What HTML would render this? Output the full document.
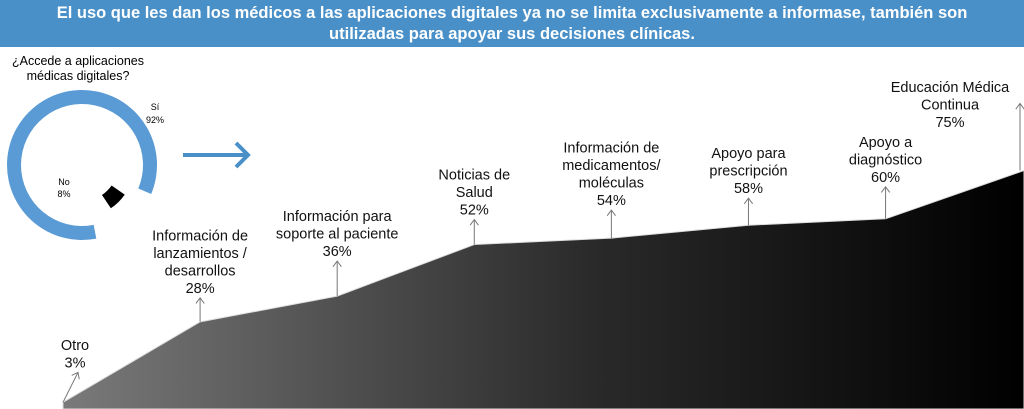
<!DOCTYPE html>
<html><head><meta charset="utf-8">
<style>
body{margin:0;width:1024px;height:409px;overflow:hidden;background:#fff;font-family:"Liberation Sans",sans-serif;}
#title{position:absolute;left:0;top:0;width:1024px;height:47px;background:#4a90c8;color:#fff;font-weight:bold;font-size:16.5px;text-align:center;line-height:21px;padding-top:3px;box-sizing:border-box;}
svg{position:absolute;left:0;top:0;}
</style></head><body>
<div id="title">El uso que les dan los médicos a las aplicaciones digitales ya no se limita exclusivamente a informase, también son<br>utilizadas para apoyar sus decisiones clínicas.</div>
<svg id="chart" width="1024" height="409">
<defs><linearGradient id="g" x1="0" x2="1" y1="0" y2="0"><stop offset="0" stop-color="#7a7a7a"/><stop offset="0.55" stop-color="#2a2a2a"/><stop offset="1" stop-color="#000"/></linearGradient></defs>
<text x="78" y="65" font-size="12.5" text-anchor="middle">¿Accede a aplicaciones</text>
<text x="78" y="80" font-size="12.5" text-anchor="middle">médicas digitales?</text>
<g id="donut"></g>
<line x1="183" y1="155" x2="247" y2="155" stroke="#4a90c8" stroke-width="4"/>
<polyline points="236,143 248,155 236,167" fill="none" stroke="#4a90c8" stroke-width="4"/>
<g id="area"></g>
</svg>
<script>
const donutLabels=["Sí","No"];
const donutValues=[92,8];
const categories=["Otro","Información de|lanzamientos /|desarrollos","Información para|soporte al paciente","Noticias de|Salud","Información de|medicamentos/|moléculas","Apoyo para|prescripción","Apoyo a|diagnóstico","Educación Médica|Continua"];
const values=[3,28,36,52,54,58,60,75];
const valueLabels=["3%","28%","36%","52%","54%","58%","60%","75%"];

const NS="http://www.w3.org/2000/svg";
function mk(t,a,p){const e=document.createElementNS(NS,t);for(const k in a)e.setAttribute(k,a[k]);p.appendChild(e);return e;}
// donut
const dg=document.getElementById('donut');
const cx=82,cy=165,ro=75,ri=61;
const start=169, span=360-10; // degrees from top clockwise
function pt(r,a){const rad=(a-90)*Math.PI/180;return [cx+r*Math.cos(rad),cy+r*Math.sin(rad)];}
const tot=donutValues.reduce((a,b)=>a+b,0);
const a0=start, a1=start+donutValues[0]/tot*360*0.917;
{const p1=pt(ro,a0),p2=pt(ro,a1),p3=pt(ri,a1),p4=pt(ri,a0);
const large=(a1-a0)>180?1:0;
const s=mk('path',{d:`M${p1}A${ro},${ro} 0 ${large} 1 ${p2}L${p3}A${ri},${ri} 0 ${large} 0 ${p4}Z`,fill:'#5a9bd5'},dg);

}
{const b0=a1+12,b1=b0+donutValues[1]/tot*360*0.75;const r1=52,r2=36;
const p1=pt(r1,b0),p2=pt(r1,b1),p3=pt(r2,b1),p4=pt(r2,b0);
const s=mk('path',{d:`M${p1}A${r1},${r1} 0 0 1 ${p2}L${p3}A${r2},${r2} 0 0 0 ${p4}Z`,fill:'#000'},dg);

}
const l1=mk('text',{x:155,y:110,'font-size':9,'text-anchor':'middle'},dg);l1.textContent=donutLabels[0];


const l1b=mk('text',{x:155,y:123,'font-size':9,'text-anchor':'middle'},dg);l1b.textContent=donutValues[0]+"%";


const l2=mk('text',{x:64,y:185,'font-size':9,'text-anchor':'middle'},dg);l2.textContent=donutLabels[1];


const l2b=mk('text',{x:64,y:197,'font-size':9,'text-anchor':'middle'},dg);l2b.textContent=donutValues[1]+"%";



// area
const ag=document.getElementById('area');
const x0=63,x1=1024;
const xs=i=>x0+i*(x1-x0)/(values.length-1)*(i===values.length-1?1:0.9986);
const ys=v=>412-v*3.22;
let d=`M${x0},409`;values.forEach((v,i)=>{d+=`L${xs(i)},${ys(v)}`;});d+=`L${x1},409Z`;
const ar=mk('path',{d:d,fill:'url(#g)',stroke:'#ddd','stroke-width':1},ag);


const arrowLen=[30,24,35,25,28,27,32,67];
values.forEach((v,i)=>{
  const x=i===values.length-1?1020:xs(i), y=ys(v);
  const tx=i===0?x+15:x, ty=y-arrowLen[i];
  const ln=mk('line',{x1:x,y1:y,x2:tx,y2:ty,stroke:'#777','stroke-width':1},ag);
  
  
  const ang=Math.atan2(ty-y,tx-x);
  const h=mk('polyline',{points:`${tx+7*Math.cos(ang+2.5)},${ty+7*Math.sin(ang+2.5)} ${tx},${ty} ${tx+7*Math.cos(ang-2.5)},${ty+7*Math.sin(ang-2.5)}`,fill:'none',stroke:'#777','stroke-width':1},ag);
  
  
  const lines=categories[i].split('|').concat([valueLabels[i]]);
  const lx=i===0?75:(i===values.length-1?950:x);
  const lastY=i===values.length-1?127:ty-5;
  lines.forEach((t,j)=>{
    const te=mk('text',{x:lx,y:lastY-(lines.length-1-j)*17.5,'font-size':14.5,'text-anchor':'middle',fill:'#111'},ag);
    te.textContent=t;
    
    
  });
});
</script>
</body></html>
